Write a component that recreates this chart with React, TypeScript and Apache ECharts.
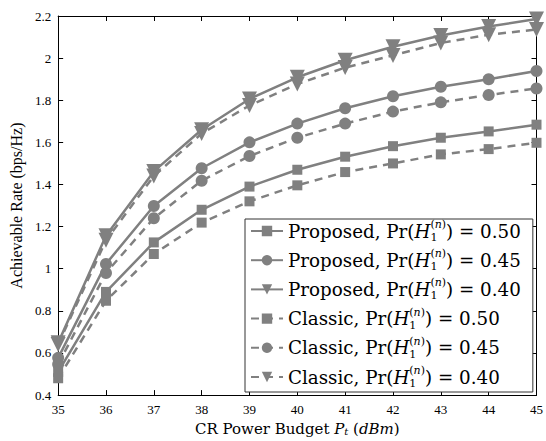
import React, { useEffect, useRef } from "react";
import * as echarts from "echarts";

const xValues = [35, 36, 37, 38, 39, 40, 41, 42, 43, 44, 45];
const proposed050 = [0.51, 0.89, 1.125, 1.28, 1.39, 1.47, 1.532, 1.582, 1.622, 1.652, 1.684];
const proposed045 = [0.577, 1.023, 1.298, 1.477, 1.6, 1.689, 1.762, 1.819, 1.864, 1.9, 1.939];
const proposed040 = [0.648, 1.157, 1.462, 1.66, 1.806, 1.909, 1.99, 2.054, 2.107, 2.15, 2.186];
const classic050 = [0.48, 0.848, 1.07, 1.219, 1.32, 1.396, 1.459, 1.5, 1.543, 1.568, 1.598];
const classic045 = [0.546, 0.98, 1.24, 1.418, 1.535, 1.622, 1.689, 1.746, 1.79, 1.825, 1.856];
const classic040 = [0.64, 1.135, 1.44, 1.642, 1.775, 1.877, 1.955, 2.013, 2.072, 2.111, 2.136];

const seriesNames = [
  "Proposed, Pr(H1(n)) = 0.50",
  "Proposed, Pr(H1(n)) = 0.45",
  "Proposed, Pr(H1(n)) = 0.40",
  "Classic, Pr(H1(n)) = 0.50",
  "Classic, Pr(H1(n)) = 0.45",
  "Classic, Pr(H1(n)) = 0.40",
];
const schemeLabels = ["Proposed", "Proposed", "Proposed", "Classic", "Classic", "Classic"];
const probLabels = ["0.50", "0.45", "0.40", "0.50", "0.45", "0.40"];

const GRAY = "#808080";
const SERIF = "'Liberation Serif', 'DejaVu Serif', serif";
const CM = "'DejaVu Serif', 'Liberation Serif', serif";
const DOWN_TRI = "path://M0,0 L10,0 L5,9 Z";

export default function App() {
  const ref = useRef<HTMLDivElement>(null);
  useEffect(() => {
    if (!ref.current) return;
    const chart = echarts.init(ref.current, undefined, { renderer: "svg" });
    const dataSets = [proposed050, proposed045, proposed040, classic050, classic045, classic040];
    const symbols = ["rect", "circle", DOWN_TRI, "rect", "circle", DOWN_TRI];
    const sizes = [10, 12, 15, 10, 12, 15];
    const series = dataSets.map((vals, i) => ({
      name: seriesNames[i],
      type: "line",
      data: vals.map((v, j) => [xValues[j], v]),
      symbol: symbols[i],
      symbolSize: sizes[i],
      showAllSymbol: true,
      lineStyle: { color: GRAY, width: 2.5, type: i < 3 ? "solid" : [8, 6] },
      itemStyle: { color: GRAY, borderWidth: 0 },
      emphasis: { disabled: true },
      z: 2,
    }));
    const tick = { show: true, inside: true, length: 5, lineStyle: { color: "#000", width: 1 } };
    const line = { show: true, lineStyle: { color: "#000", width: 1 } };
    const labelStyle = { color: "#000", fontFamily: SERIF, fontSize: 13 };
    const legendFs = 18.3;
    chart.setOption({
      animation: false,
      backgroundColor: "#fff",
      grid: { left: 52, right: 7, top: 16, bottom: 41 },
      legend: {
        orient: "vertical",
        left: 245,
        top: 219,
        padding: [0, 12, 3, 5],
        itemGap: 5.2,
        itemWidth: 32,
        itemHeight: 13,
        backgroundColor: "#fff",
        borderColor: "#333",
        borderWidth: 1,
        data: seriesNames,
        formatter: (name: string) => {
          const i = seriesNames.indexOf(name);
          return `{r|${schemeLabels[i]}, Pr(}{i|H}{s|1}{p|(}{pn|n}{p|)}{r|) = ${probLabels[i]}}`;
        },
        textStyle: {
          color: "#000",
          fontFamily: CM,
          fontSize: legendFs,
          rich: {
            r: { fontFamily: CM, fontSize: legendFs, lineHeight: 24, color: "#000" },
            i: { fontFamily: CM, fontSize: legendFs, lineHeight: 24, fontStyle: "italic", color: "#000" },
            s: { fontFamily: CM, fontSize: 11, lineHeight: 11, width: 0, verticalAlign: "bottom", color: "#000" },
            p: { fontFamily: CM, fontSize: 11, lineHeight: 11, verticalAlign: "top", color: "#000" },
            pn: { fontFamily: CM, fontSize: 11, lineHeight: 11, verticalAlign: "top", fontStyle: "italic", color: "#000" },
          },
        },
      },
      xAxis: [
        {
          type: "value",
          min: 35,
          max: 45,
          interval: 1,
          position: "bottom",
          axisLine: line,
          axisTick: tick,
          splitLine: { show: false },
          axisLabel: { ...labelStyle, margin: 8 },
          name: "CR Power Budget {i|P}{s|t} ({i|dBm})",
          nameLocation: "middle",
          nameGap: 19,
          nameTextStyle: {
            color: "#000",
            fontFamily: CM,
            fontSize: 15,
            rich: {
              i: { fontFamily: CM, fontSize: 15, fontStyle: "italic", color: "#000" },
              s: { fontFamily: CM, fontSize: 10, fontStyle: "italic", verticalAlign: "bottom", color: "#000" },
            },
          },
        },
        {
          type: "value",
          min: 35,
          max: 45,
          interval: 1,
          position: "top",
          axisLine: line,
          axisTick: tick,
          splitLine: { show: false },
          axisLabel: { show: false },
        },
      ],
      yAxis: [
        {
          type: "value",
          min: 0.4,
          max: 2.2,
          interval: 0.2,
          position: "left",
          axisLine: line,
          axisTick: tick,
          splitLine: { show: false },
          axisLabel: {
            ...labelStyle,
            margin: 7,
            formatter: (v: number) => String(+v.toFixed(1)),
          },
          name: "Achievable Rate (bps/Hz)",
          nameLocation: "middle",
          nameGap: 27,
          nameTextStyle: { color: "#000", fontFamily: SERIF, fontSize: 16 },
        },
        {
          type: "value",
          min: 0.4,
          max: 2.2,
          interval: 0.2,
          position: "right",
          axisLine: line,
          axisTick: tick,
          splitLine: { show: false },
          axisLabel: { show: false },
        },
      ],
      series,
    });
    return () => chart.dispose();
  }, []);
  return (
    <div
      ref={ref}
      style={{ position: "fixed", left: 0, top: 0, width: 546, height: 441, background: "#fff" }}
    />
  );
}
